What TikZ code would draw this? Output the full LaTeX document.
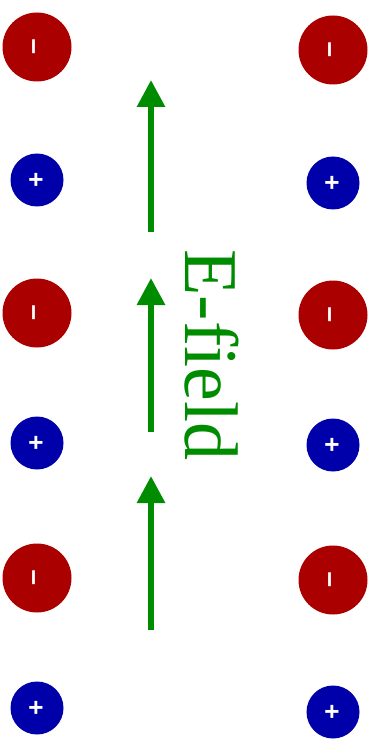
\documentclass[tikz,border=0pt]{standalone}
\usepackage{fontspec}
\setmainfont{Liberation Serif}
\newfontfamily\signfont{Liberation Sans}
\usetikzlibrary{arrows.meta}
\definecolor{negred}{RGB}{170,0,0}
\definecolor{posblue}{RGB}{0,0,170}
\definecolor{fieldgreen}{RGB}{0,140,0}
\tikzset{
  negcharge/.style={circle,fill=negred,minimum size=69pt,inner sep=0pt,text=white,
    font=\signfont\bfseries\fontsize{28}{28}\selectfont,rotate=90},
  poscharge/.style={circle,fill=posblue,minimum size=53pt,inner sep=0pt,text=white,
    font=\signfont\bfseries\fontsize{26}{26}\selectfont,rotate=90},
  field/.style={-{Triangle[length=27pt,width=27pt]},line width=6pt,fieldgreen},
  every node/.style={font=\small}
}
\begin{document}
\begin{tikzpicture}[x=1pt,y=-1pt]
\useasboundingbox (0,0) rectangle (375,751);
% charges, left and right column
\foreach \k/\yl/\yr in {1/47/50,2/313/315,3/578/580} {
  \node[negcharge] (NL\k) at (37,\yl) {–};
  \node[negcharge] (NR\k) at (333,\yr) {–};
}
\foreach \k/\yl/\yr in {1/180/183,2/443/445,3/708/712} {
  \node[poscharge] (PL\k) at (37,\yl) {+};
  \node[poscharge] (PR\k) at (333,\yr) {+};
}
% field arrows
\foreach \k/\ya/\yb in {1/232/80,2/432/278,3/630/476} {
  \coordinate (T\k) at (151,\ya);
  \coordinate (H\k) at (151,\yb);
  \draw[field] (T\k) -- (H\k);
}
\node[rotate=-90,text=fieldgreen,font=\fontsize{76}{76}\selectfont] (lbl) at (212,355) {E-field};
\end{tikzpicture}
\end{document}
